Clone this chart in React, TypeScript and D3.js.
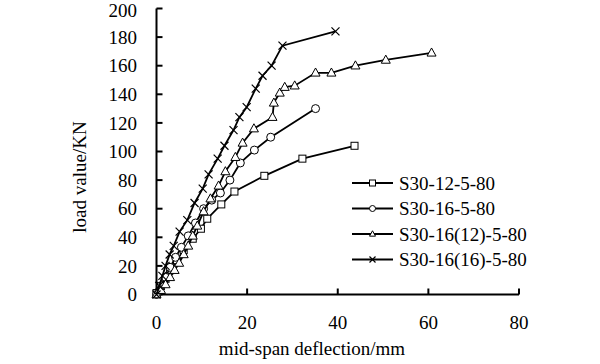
import React from "react";
import * as d3 from "d3";

const xTicks = [0, 20, 40, 60, 80];
const yTicks = [0, 20, 40, 60, 80, 100, 120, 140, 160, 180, 200];

const seriesNames = ["S30-12-5-80", "S30-16-5-80", "S30-16(12)-5-80", "S30-16(16)-5-80"];
const markerTypes = ["square", "circle", "triangle", "cross"];

const s1x = [0, 1, 2, 3, 4.5, 6, 8, 9.8, 11.2, 14.3, 17.2, 23.8, 32.2, 43.7];
const s1y = [1, 6, 11, 17, 24, 31, 39, 46, 53, 63, 72, 83, 95, 104];

const s2x = [0, 1, 2, 3, 4.2, 5.5, 7, 8.6, 10.4, 12.2, 14.1, 16.2, 18.5, 21.6, 25.2, 35.1];
const s2y = [0, 6, 12, 19, 26, 33, 41, 50, 60, 66, 71, 80, 92, 101, 110, 130];

const s3x = [0, 1, 2, 3, 4, 5, 6, 7, 8, 9, 10.4, 11.9, 13.7, 15.2, 17.4, 19, 21.5, 25.6, 25.9, 27.2, 28.3, 30.5, 35.1, 38.6, 43.9, 50.6, 60.7];
const s3y = [0, 3, 7, 12, 17, 22, 28, 34, 41, 48, 58, 67, 76, 86, 96, 106, 116, 124, 134, 141, 145, 146, 155, 155, 160, 164, 169];

const s4x = [0, 0.6, 1.3, 2, 2.9, 3.8, 5.1, 6.8, 8.4, 10.2, 11.5, 13.5, 15, 17, 18.3, 19.9, 21.9, 23.4, 25.4, 27.8, 39.5];
const s4y = [0, 6, 13, 20, 28, 34, 44, 52, 64, 74, 84, 95, 104, 115, 124, 131, 144, 153, 160, 174, 184];

const seriesX = [s1x, s2x, s3x, s4x];
const seriesY = [s1y, s2y, s3y, s4y];

const FONT = "'Liberation Serif', 'Times New Roman', serif";

function Marker({ type, x, y, s }: { type: string; x: number; y: number; s: number }) {
  const common = { stroke: "#000", strokeWidth: 1, fill: "#fff" };
  if (type === "square") {
    return <rect x={x - s / 2} y={y - s / 2} width={s} height={s} {...common} />;
  }
  if (type === "circle") {
    return <circle cx={x} cy={y} r={s / 2} {...common} />;
  }
  if (type === "triangle") {
    const h = s * 0.9;
    return (
      <path
        d={`M${x},${y - h * 0.6} L${x + s / 2},${y + h * 0.4} L${x - s / 2},${y + h * 0.4} Z`}
        {...common}
      />
    );
  }
  const r = s / 2;
  return (
    <path
      d={`M${x - r},${y - r} L${x + r},${y + r} M${x - r},${y + r} L${x + r},${y - r}`}
      stroke="#000"
      strokeWidth={1.2}
      fill="none"
    />
  );
}

export default function App() {
  const width = 600;
  const height = 364;
  const x = d3.scaleLinear().domain([0, 80]).range([156.5, 519]);
  const y = d3.scaleLinear().domain([0, 200]).range([294.5, 8.5]);
  const line = d3
    .line<[number, number]>()
    .x((d) => x(d[0]))
    .y((d) => y(d[1]));

  const legendY = [183, 208.5, 234, 259.5];
  const sizes = [7, 8, 9, 8];

  return (
    <svg
      width={width}
      height={height}
      style={{ position: "absolute", left: 0, top: 0, background: "#fff" }}
      fontFamily={FONT}
    >
      <rect x={0} y={0} width={width} height={height} fill="#fff" />
      {/* axes */}
      <line x1={x(0)} x2={x(0)} y1={y(200)} y2={y(0)} stroke="#000" strokeWidth={2} />
      <line x1={x(0)} x2={x(80)} y1={y(0)} y2={y(0)} stroke="#000" strokeWidth={2} />
      {yTicks.map((t) => (
        <g key={"y" + t}>
          <line x1={x(0)} x2={x(0) + 6} y1={y(t)} y2={y(t)} stroke="#000" strokeWidth={2} />
          <text x={137} y={Math.max(y(t), 10.5)} dy="0.35em" textAnchor="end" fontSize={19}>
            {t}
          </text>
        </g>
      ))}
      {xTicks.map((t) => (
        <g key={"x" + t}>
          <line x1={x(t)} x2={x(t)} y1={y(0)} y2={y(0) - 6} stroke="#000" strokeWidth={2} />
          <text x={x(t)} y={329} textAnchor="middle" fontSize={19}>
            {t}
          </text>
        </g>
      ))}
      <text x={312} y={355} textAnchor="middle" fontSize={19}>
        mid-span deflection/mm
      </text>
      <text
        transform={`translate(86,177) rotate(-90)`}
        textAnchor="middle"
        fontSize={19}
      >
        load value/KN
      </text>

      {/* series */}
      {seriesX.map((xs, i) => {
        const pts: [number, number][] = xs.map((v, j) => [v, seriesY[i][j]]);
        return (
          <g key={"s" + i}>
            <path d={line(pts) || ""} fill="none" stroke="#000" strokeWidth={1.8} />
            {pts.map((p, j) => (
              <Marker key={j} type={markerTypes[i]} x={x(p[0])} y={y(p[1])} s={sizes[i]} />
            ))}
          </g>
        );
      })}

      {/* legend */}
      {seriesNames.map((n, i) => (
        <g key={"l" + i}>
          <line x1={352} x2={393} y1={legendY[i]} y2={legendY[i]} stroke="#000" strokeWidth={1.8} />
          <Marker type={markerTypes[i]} x={372.5} y={legendY[i]} s={6} />
          <text x={399} y={legendY[i]} dy="0.35em" fontSize={19}>
            {n}
          </text>
        </g>
      ))}
    </svg>
  );
}
